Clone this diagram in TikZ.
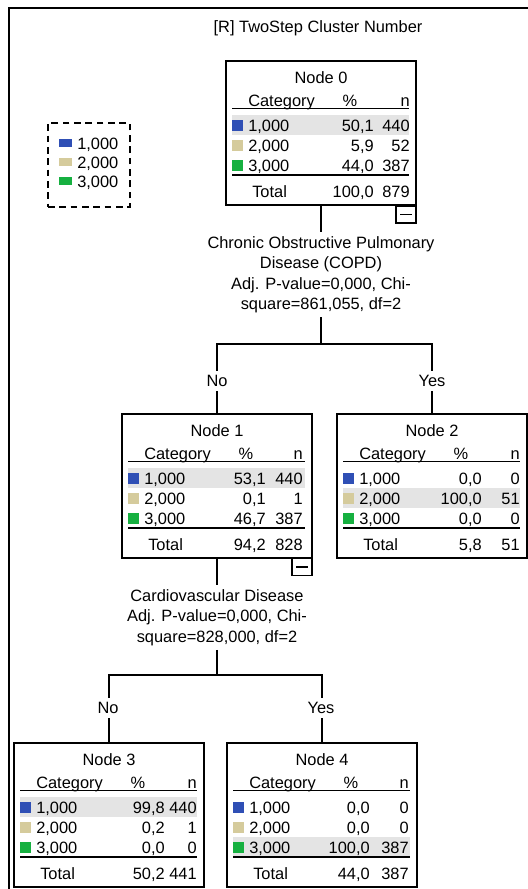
\documentclass[tikz,border=0pt]{standalone}
\usepackage{fontspec}
\setmainfont{Liberation Sans}
\definecolor{cblue}{HTML}{2F4FB5}
\definecolor{ctan}{HTML}{D5CB9C}
\definecolor{cgreen}{HTML}{16B040}
\definecolor{chi}{HTML}{E4E4E4}
\newcommand\tfnt{\fontsize{12.3pt}{15.4pt}\selectfont}
\tikzset{
  txt/.style={inner sep=0pt, font=\tfnt, text=black},
  treebox/.style={draw, line width=1.5pt, minimum width=142.5pt, minimum height=108pt, inner sep=0pt},
  rulethin/.style={line width=1.2pt},
  rulethick/.style={line width=1.6pt},
  conn/.style={line width=1.5pt},
  lbl/.style={txt, fill=white, inner xsep=2pt, inner ysep=3pt},
  splittxt/.style={txt, align=center, inner xsep=0pt, inner ysep=3pt, anchor=north},
  collapse/.style={draw, line width=1.3pt, minimum width=15pt, minimum height=12.75pt, inner sep=0pt},
  legendbox/.style={draw, dash pattern=on 5pt off 3.5pt, line width=1.2pt, minimum width=61.5pt, minimum height=63pt, inner sep=0pt},
  frameline/.style={line width=1.5pt},
}
\def\pctx{148}
\def\nx{183}
% #1 name, #2 L, #3 T, #4 number, #5 total pct, #6 total n
\newcommand\TreeBox[6]{%
  \node[treebox] (#1) at (#2+95,#3+72) {};
  \begin{scope}[shift={(#2,#3)}]
    \node[txt,anchor=base] (#1-title) at (95,22) {Node #4};
    \node[txt,anchor=base west] (#1-cat) at (22,45) {Category};
    \node[txt,anchor=base] (#1-pc) at (124,45) {\%};
    \node[txt,anchor=base east] (#1-nh) at (\nx,45) {n};
    \draw[rulethin] (6,47.5) -- (183,47.5);
    \draw[rulethick] (6,114) -- (183,114);
    \node[txt,anchor=base west] (#1-tot) at (26,136) {Total};
    \node[txt,anchor=base east] (#1-totp) at (\pctx,136) {#5};
    \node[txt,anchor=base east] (#1-totn) at (\nx,136) {#6};
  \end{scope}}
% #1 L, #2 T, #3 row centre
\newcommand\TreeHi[3]{%
  \begin{scope}[shift={(#1,#2)}]
    \fill[chi] (6,#3-10) rectangle (183,#3+10);
  \end{scope}}
% #1 name, #2 L, #3 T, #4 row centre, #5 colour, #6 label, #7 pct, #8 n
\newcommand\TreeRow[8]{%
  \begin{scope}[shift={(#2,#3)}]
    \fill[#5] (6,#4-5.5) rectangle (17,#4+5.5);
    \node[txt,anchor=base west] (#1-lab) at (22,#4+6) {#6};
    \node[txt,anchor=base east] (#1-pct) at (\pctx,#4+6) {#7};
    \node[txt,anchor=base east] (#1-n) at (\nx,#4+6) {#8};
  \end{scope}}
\begin{document}
\begin{tikzpicture}[x=0.75pt,y=-0.75pt]
\useasboundingbox (0,0) rectangle (528,889);
\fill[white] (0,0) rectangle (528,889);
% frame
\draw[frameline] (9,889) -- (9,8) -- (528,8);
% title
\node[txt,anchor=base] (title) at (318,32) {[R] TwoStep Cluster Number};
% legend
\node[legendbox] (legend) at (89,165) {};
\fill[cblue] (59,139) rectangle (72,147);
\node[txt,anchor=base west] (lg1) at (77,149) {1,000};
\fill[ctan] (59,158) rectangle (72,166);
\node[txt,anchor=base west] (lg2) at (77,168) {2,000};
\fill[cgreen] (59,177) rectangle (72,185);
\node[txt,anchor=base west] (lg3) at (77,187) {3,000};

% Node 0
\def\pctx{148}\def\nx{184}
\TreeHi{226}{61}{64}
\TreeBox{n0}{226}{61}{0}{100,0}{879}
\TreeRow{n0-r1}{226}{61}{64}{cblue}{1,000}{50,1}{440}
\TreeRow{n0-r2}{226}{61}{84}{ctan}{2,000}{5,9}{52}
\TreeRow{n0-r3}{226}{61}{104}{cgreen}{3,000}{44,0}{387}
\node[collapse] (n0c) at (406,214.5) {};
\draw[line width=1.2pt] ([xshift=-4.5pt]n0c.center) -- ([xshift=4.5pt]n0c.center);

% Split 1
\node[splittxt] (s1) at (321,232) {Chronic Obstructive Pulmonary\\Disease (COPD)\\Adj. P-value=0,000, Chi-\\square=861,055, df=2};
\coordinate (j1) at (321,344);

% Node 1
\def\pctx{144}\def\nx{181}
\TreeHi{122}{414}{64}
\TreeBox{n1}{122}{414}{1}{94,2}{828}
\TreeRow{n1-r1}{122}{414}{64}{cblue}{1,000}{53,1}{440}
\TreeRow{n1-r2}{122}{414}{84}{ctan}{2,000}{0,1}{1}
\TreeRow{n1-r3}{122}{414}{104}{cgreen}{3,000}{46,7}{387}
\node[collapse] (n1c) at (302,567) {};
\draw[line width=1.2pt] ([xshift=-4.5pt]n1c.center) -- ([xshift=4.5pt]n1c.center);

% Node 2
\def\pctx{145}\def\nx{183}
\TreeHi{337}{414}{84}
\TreeBox{n2}{337}{414}{2}{5,8}{51}
\TreeRow{n2-r1}{337}{414}{64}{cblue}{1,000}{0,0}{0}
\TreeRow{n2-r2}{337}{414}{84}{ctan}{2,000}{100,0}{51}
\TreeRow{n2-r3}{337}{414}{104}{cgreen}{3,000}{0,0}{0}

% Split 2
\node[splittxt] (s2) at (217,585) {Cardiovascular Disease\\Adj. P-value=0,000, Chi-\\square=828,000, df=2};
\coordinate (j2) at (217,675);

% Node 3
\def\pctx{151}\def\nx{183}
\TreeHi{14}{743}{64}
\TreeBox{n3}{14}{743}{3}{50,2}{441}
\TreeRow{n3-r1}{14}{743}{64}{cblue}{1,000}{99,8}{440}
\TreeRow{n3-r2}{14}{743}{84}{ctan}{2,000}{0,2}{1}
\TreeRow{n3-r3}{14}{743}{104}{cgreen}{3,000}{0,0}{0}

% Node 4
\def\pctx{143}\def\nx{182}
\TreeHi{227}{743}{104}
\TreeBox{n4}{227}{743}{4}{44,0}{387}
\TreeRow{n4-r1}{227}{743}{64}{cblue}{1,000}{0,0}{0}
\TreeRow{n4-r2}{227}{743}{84}{ctan}{2,000}{0,0}{0}
\TreeRow{n4-r3}{227}{743}{104}{cgreen}{3,000}{100,0}{387}

% connectors
\draw[conn] (n0.south) -- (s1.north);
\draw[conn] (s1.south) -- (j1);
\draw[conn] (j1) -| (n1.north);
\draw[conn] (j1) -| (n2.north);
\draw[conn] (n1.south) -- (s2.north);
\draw[conn] (s2.south) -- (j2);
\draw[conn] (j2) -| (n3.north);
\draw[conn] (j2) -| (n4.north);
% branch labels
\node[lbl] (l1no) at (217,381) {No};
\node[lbl] (l1yes) at (432,381) {Yes};
\node[lbl] (l2no) at (108,708) {No};
\node[lbl] (l2yes) at (321,708) {Yes};
\end{tikzpicture}
\end{document}
